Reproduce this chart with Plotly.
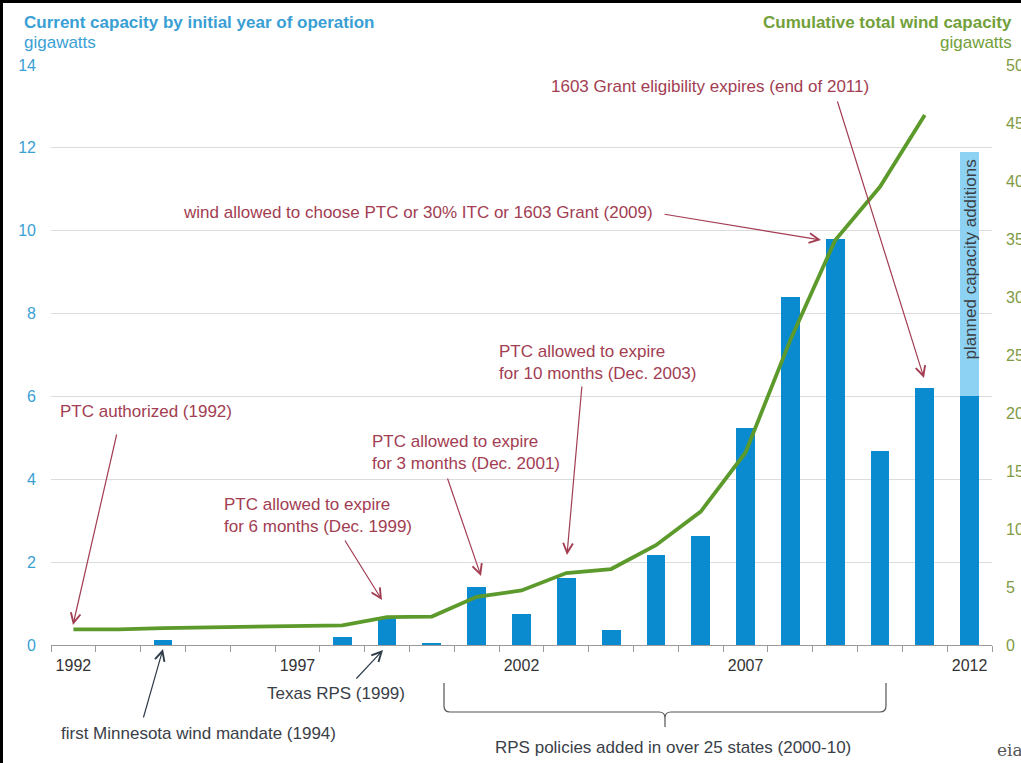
import plotly.graph_objects as go

# ---------------- data ----------------
years = list(range(1992, 2013))
capacity_by_year = [0.0, 0.0, 0.12, 0.0, 0.0, 0.0, 0.2, 0.68, 0.05, 1.4, 0.75, 1.62,
                    0.37, 2.17, 2.63, 5.24, 8.4, 9.8, 4.68, 6.2, 6.0]
planned_years = [2012]
planned_additions = [5.9]
cumulative_years = list(range(1992, 2012))
cumulative_total = [1.35, 1.35, 1.45, 1.5, 1.6, 1.6, 1.7, 2.4, 2.45, 4.15, 4.7, 6.2,
                    6.55, 8.6, 11.5, 16.6, 26.3, 34.9, 39.5, 45.7]
label_years = [1992, 1997, 2002, 2007, 2012]
left_ticks = [0, 2, 4, 6, 8, 10, 12, 14]
right_ticks = [0, 5, 10, 15, 20, 25, 30, 35, 40, 45, 50]

FONT = "Liberation Sans, Arial, sans-serif"
BLUE = "#0a8bd0"
LIGHT_BLUE = "#8dd2f2"
GREEN = "#5c9a2c"
RED = "#a23d52"
DARK = "#3a4048"
FS = 17

fig = go.Figure()
fig.add_trace(go.Bar(x=years, y=capacity_by_year, marker_color=BLUE, width=0.42,
                     marker_line_width=0, yaxis="y", showlegend=False))
fig.add_trace(go.Bar(x=planned_years, y=planned_additions, marker_color=LIGHT_BLUE, width=0.42,
                     marker_line_width=0, yaxis="y", showlegend=False))
fig.add_trace(go.Scatter(x=cumulative_years, y=cumulative_total, mode="lines",
                         line=dict(color=GREEN, width=3.8), yaxis="y2", showlegend=False))

half_years = [y - 0.5 for y in years] + [years[-1] + 0.5]

fig.update_layout(
    width=1021, height=763,
    margin=dict(l=51, r=29, t=65, b=118, autoexpand=False),
    paper_bgcolor="white", plot_bgcolor="white",
    barmode="stack", bargap=0,
    font=dict(family=FONT, size=FS, color=DARK),
    xaxis=dict(range=[1991.5, 2012.5], tickmode="array", tickvals=label_years,
               ticktext=[str(y) for y in label_years], ticks="outside", ticklen=6,
               tickcolor="rgba(0,0,0,0)", showline=True, linecolor="#9a9a9a", linewidth=1.2,
               showgrid=False, zeroline=False, automargin=False,
               tickfont=dict(size=16, color="#333333", family=FONT),
               minor=dict(tickmode="array", tickvals=half_years, ticks="outside",
                          ticklen=6, tickcolor="#9a9a9a", tickwidth=1.2, showgrid=False)),
    yaxis=dict(range=[0, 14], tickmode="array", tickvals=left_ticks, showgrid=True,
               gridcolor="#dcdcdc", gridwidth=1, zeroline=False, showline=False, automargin=False,
               tickfont=dict(size=16, color="#3a9fd4", family=FONT), ticklabelstandoff=14),
    yaxis2=dict(range=[0, 50], tickmode="array", tickvals=right_ticks, overlaying="y",
                side="right", showgrid=False, zeroline=False, showline=False, automargin=False,
                tickfont=dict(size=16, color="#7f9a45", family=FONT), ticklabelstandoff=13),
)

def px_x(px):
    return (px - 51) / 941.0

def px_y(py):
    return (645 - py) / 580.0

def data_x(px):
    return 1991.5 + (px - 51) / 44.81

ann = []
# titles
ann.append(dict(text="<b>Current capacity by initial year of operation</b>", xref="paper", yref="paper",
                x=px_x(22), y=px_y(22), xanchor="left", yanchor="middle", showarrow=False,
                font=dict(size=FS, color="#3a9fd4")))
ann.append(dict(text="gigawatts", xref="paper", yref="paper", x=px_x(22), y=px_y(42),
                xanchor="left", yanchor="middle", showarrow=False, font=dict(size=FS, color="#3a9fd4")))
ann.append(dict(text="<b>Cumulative total wind capacity</b>", xref="paper", yref="paper",
                x=px_x(1014), y=px_y(22), xanchor="right", yanchor="middle", showarrow=False,
                font=dict(size=FS, color="#72a03a")))
ann.append(dict(text="gigawatts", xref="paper", yref="paper", x=px_x(1014), y=px_y(42),
                xanchor="right", yanchor="middle", showarrow=False, font=dict(size=FS, color="#72a03a")))

# arrows: (head px, tail px, color)
arrows = [
    ((73, 625), (117, 433), RED),
    ((382, 600), (344, 539), RED),
    ((481, 576), (447, 477), RED),
    ((567, 555), (582, 385), RED),
    ((821, 240), (663, 214), RED),
    ((924, 378), (837, 100), RED),
    ((383, 650), (355, 680), "#2f3c4a"),
    ((163, 649), (143, 719), "#2f3c4a"),
]
for (hx, hy), (tx, ty), col in arrows:
    ann.append(dict(text="", xref="x", yref="paper", x=data_x(hx), y=px_y(hy),
                    ax=tx - hx, ay=ty - hy, axref="pixel", ayref="pixel",
                    showarrow=True, arrowhead=5, arrowsize=1.6, arrowwidth=1.2,
                    arrowcolor=col, font=dict(size=1)))

# annotation texts
texts = [
    ("PTC authorized (1992)", 146, 412, "center", RED),
    ("PTC allowed to expire<br>for 6 months (Dec. 1999)", 222, 515, "left", RED),
    ("PTC allowed to expire<br>for 3 months (Dec. 2001)", 370, 452, "left", RED),
    ("PTC allowed to expire<br>for 10 months (Dec. 2003)", 497, 362, "left", RED),
    ("wind allowed to choose PTC or 30% ITC or 1603 Grant (2009)", 418, 213, "center", RED),
    ("1603 Grant eligibility expires (end of 2011)", 710, 86, "center", RED),
    ("Texas RPS (1999)", 336, 693, "center", DARK),
    ("first Minnesota wind mandate (1994)", 198, 733, "center", DARK),
    ("RPS policies added in over 25 states (2000-10)", 673, 747, "center", DARK),
]
for t, x, y, anchor, col in texts:
    ann.append(dict(text=t, xref="paper", yref="paper", x=px_x(x), y=px_y(y),
                    xanchor=anchor, yanchor="middle", align=anchor, showarrow=False,
                    font=dict(size=FS, color=col)))

ann.append(dict(text="planned capacity additions", xref="x", yref="paper", x=2012, y=px_y(260),
                textangle=-90, showarrow=False, font=dict(size=17, color="#3a3f45")))
ann.append(dict(text="eia", xref="paper", yref="paper", x=px_x(995), y=px_y(750),
                xanchor="left", yanchor="middle", showarrow=False,
                font=dict(size=17, color="#555555", family="DejaVu Serif, serif")))
fig.update_layout(annotations=ann)

# bracket and border
xl, xm, xr = data_x(444), data_x(665), data_x(886)
yt, yh, yb = px_y(683), px_y(712), px_y(727)
r = 6 / 44.81
ry = 6 / 580.0
path = (f"M {xl} {yt} L {xl} {yh + ry} Q {xl} {yh} {xl + r} {yh} L {xm - r} {yh} "
        f"Q {xm} {yh} {xm} {yh - ry} L {xm} {yb} M {xm} {yh - ry} Q {xm} {yh} {xm + r} {yh} "
        f"L {xr - r} {yh} Q {xr} {yh} {xr} {yh + ry} L {xr} {yt}")
shapes = [
    dict(type="path", xref="x", yref="paper", path=path, line=dict(color="#555555", width=1.2)),
    dict(type="line", xref="paper", yref="paper", x0=px_x(0), x1=px_x(1030), y0=px_y(1.5), y1=px_y(1.5),
         line=dict(color="black", width=3)),
    dict(type="line", xref="paper", yref="paper", x0=px_x(1.5), x1=px_x(1.5), y0=px_y(0), y1=px_y(770),
         line=dict(color="black", width=3)),
]
fig.update_layout(shapes=shapes)

fig.write_html("out.html", config={"displayModeBar": False},
               post_script="document.body.style.margin='0';document.body.style.padding='0';"
                           "document.body.style.overflow='hidden';")
